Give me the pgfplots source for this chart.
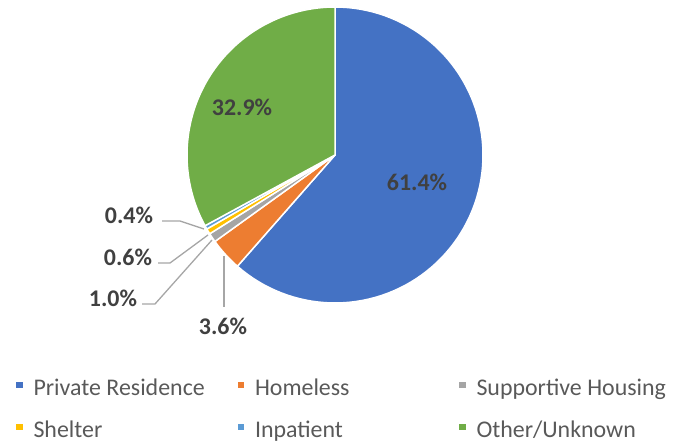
\documentclass[border=0pt]{standalone}
\usepackage{pgfplots}
\pgfplotsset{compat=1.18}
\usepackage{fontspec}
\setmainfont{Carlito}
\definecolor{cBlue}{HTML}{4472C4}
\definecolor{cOrange}{HTML}{ED7D31}
\definecolor{cGray}{HTML}{A5A5A5}
\definecolor{cYellow}{HTML}{FFC000}
\definecolor{cLBlue}{HTML}{5B9BD5}
\definecolor{cGreen}{HTML}{70AD47}
\definecolor{cLabel}{HTML}{404040}
\definecolor{cLegend}{HTML}{595959}
\definecolor{cLine}{HTML}{A6A6A6}
\def\cx{335}\def\cy{155}\def\rr{148}\def\tot{99.9}
\newcommand\slice[4]{% color, cum start, value, name
  \pgfmathsetmacro\aA{90-(#2+#3)/\tot*360}%
  \pgfmathsetmacro\aB{90-(#2)/\tot*360}%
  \addplot[fill=#1, draw=white, line width=1.5bp, line join=round, domain=\aA:\aB, samples=90, variable=\t]
    ({\cx+\rr*cos(\t)},{\cy-\rr*sin(\t)}) -- (axis cs:\cx,\cy) -- cycle;
  \addlegendentry{\makebox[215bp][l]{\hspace{11bp}\rule[-4bp]{0pt}{26bp}#4}}
}
\begin{document}
\begin{tikzpicture}
\begin{axis}[
  x=1bp, y=1bp, xmin=0, xmax=682, ymin=0, ymax=443, y dir=reverse,
  scale only axis, hide axis, clip=false,
  legend columns=3,
  legend cell align=left,
  legend image code/.code={\path[#1,draw=none] (0bp,-3.2bp) rectangle (6.5bp,3.2bp);},
  legend style={draw=none, fill=none, inner sep=0pt, outer sep=0pt,
    at={(axis cs:16,406)}, anchor=west, column sep=0pt, row sep=18.5bp,
    font=\fontsize{24}{29}\selectfont, text=cLegend,
    nodes={inner sep=0pt, outer sep=0pt}},
]
\path (axis cs:0,0) rectangle (axis cs:682,443);
\slice{cBlue}{0}{61.4}{Private Residence}
\slice{cOrange}{61.4}{3.6}{Homeless}
\slice{cGray}{65.0}{1.0}{Supportive Housing}
\slice{cYellow}{66.0}{0.6}{Shelter}
\slice{cLBlue}{66.6}{0.4}{Inpatient}
\slice{cGreen}{67.0}{32.9}{Other/Unknown}
% leader lines
\draw[cLine, line width=1.3bp] (axis cs:162,221) -- (axis cs:180,221) -- (axis cs:204,229);
\draw[cLine, line width=1.3bp] (axis cs:158,263) -- (axis cs:170,263) -- (axis cs:208,235);
\draw[cLine, line width=1.3bp] (axis cs:142,304) -- (axis cs:155,304) -- (axis cs:212,240);
\draw[cLine, line width=1.3bp] (axis cs:224,307) -- (axis cs:224,256);
% labels
\begin{scope}[every node/.style={font=\fontsize{24}{29}\selectfont\bfseries, text=cLabel, inner sep=0pt}]
\node at (axis cs:417,182) {61.4\%};
\node at (axis cs:242,107) {32.9\%};
\node at (axis cs:129,215) {0.4\%};
\node at (axis cs:128,257) {0.6\%};
\node at (axis cs:113,298) {1.0\%};
\node at (axis cs:223,326) {3.6\%};
\end{scope}
\end{axis}
\end{tikzpicture}
\end{document}
